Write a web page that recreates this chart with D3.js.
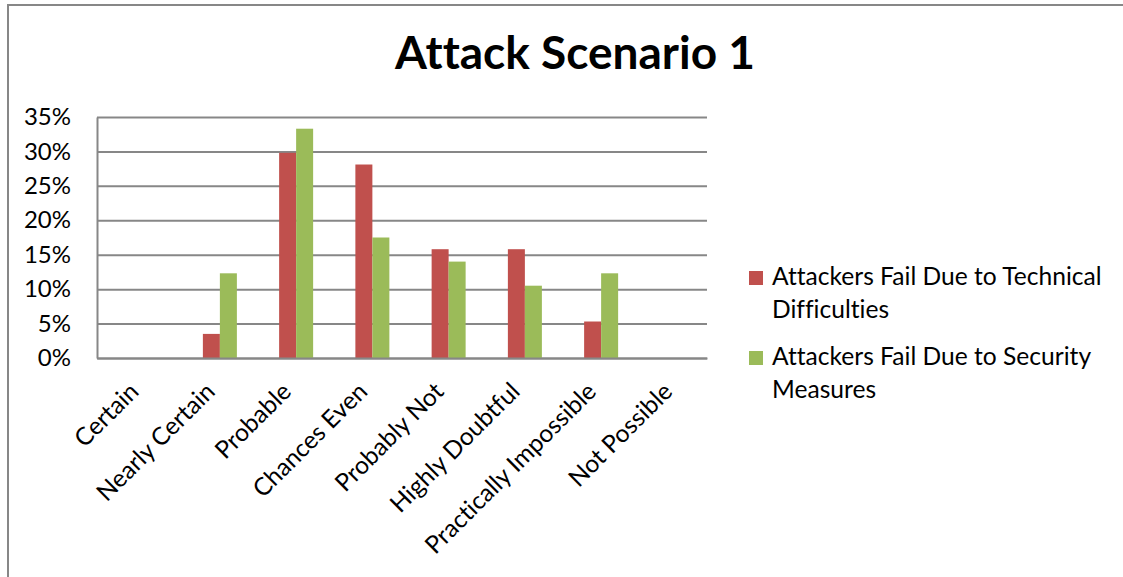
<!DOCTYPE html>
<html>
<head>
<meta charset="utf-8">
<script src="https://cdn.jsdelivr.net/npm/d3@7"></script>
<style>
  html, body { margin: 0; padding: 0; background: #fff; }
  svg { display: block; font-family: Lato, "Open Sans", sans-serif; font-variant-ligatures: none; }
</style>
</head>
<body>
<svg id="chart" width="1123" height="577"></svg>
<script>
const title = "Attack Scenario 1";
const categories = ["Certain", "Nearly Certain", "Probable", "Chances Even", "Probably Not", "Highly Doubtful", "Practically Impossible", "Not Possible"];
const technicalValues = [0, 0.035, 0.298, 0.281, 0.158, 0.158, 0.053, 0];
const securityValues = [0, 0.123, 0.333, 0.175, 0.140, 0.105, 0.123, 0];
const seriesKeys = ["technical", "security"];
const seriesLabels = [["Attackers Fail Due to Technical", "Difficulties"], ["Attackers Fail Due to Security", "Measures"]];
const seriesColors = ["#C0504D", "#9BBB59"];
const yTickValues = [0, 0.05, 0.10, 0.15, 0.20, 0.25, 0.30, 0.35];

const svg = d3.select("#chart");
const plot = { left: 97, right: 707, top: 117, bottom: 358 };
const gridColor = "#878787";

// outer chart border (extends beyond the visible area on right/bottom)
svg.append("rect")
  .attr("x", 8).attr("y", 5).attr("width", 1200).attr("height", 700)
  .attr("fill", "none").attr("stroke", gridColor).attr("stroke-width", 2);

// title
svg.append("text")
  .attr("x", 575).attr("y", 69)
  .attr("text-anchor", "middle")
  .attr("font-weight", "bold")
  .attr("font-size", 46)
  .attr("fill", "#000")
  .text(title);

const x = d3.scaleBand().domain(categories).range([plot.left, plot.right]);
const y = d3.scaleLinear().domain([0, 0.35]).range([plot.bottom, plot.top]);
const barW = x.bandwidth() * 0.223;
const xInner = d3.scaleBand().domain(seriesKeys).range([0, 2 * barW]);

// gridlines
svg.append("g")
  .attr("transform", `translate(${plot.left},0)`)
  .call(d3.axisLeft(y).tickValues(yTickValues).tickSize(-(plot.right - plot.left)).tickFormat(""))
  .call(g => g.select(".domain").remove())
  .call(g => g.selectAll("line").attr("stroke", gridColor).attr("stroke-width", 2));

// y axis labels + axis line
const yAxis = svg.append("g")
  .attr("transform", `translate(${plot.left},0)`)
  .call(d3.axisLeft(y).tickValues(yTickValues).tickSize(0).tickPadding(26).tickFormat(d3.format(".0%")));
yAxis.select(".domain").attr("stroke", gridColor).attr("stroke-width", 2);
yAxis.selectAll("text").attr("font-size", 24).attr("font-family", "Lato, sans-serif").attr("fill", "#000");

// bars
const rows = categories.map((c, i) => ({ category: c, technical: technicalValues[i], security: securityValues[i] }));
const groups = svg.append("g").selectAll("g")
  .data(rows).join("g")
  .attr("transform", d => `translate(${x(d.category) + x.bandwidth() / 2 - barW / 2},0)`);
groups.selectAll("rect")
  .data(d => seriesKeys.map((k, j) => ({ key: k, value: d[k], color: seriesColors[j] })))
  .join("rect")
  .attr("x", d => xInner(d.key))
  .attr("width", xInner.bandwidth())
  .attr("y", d => y(d.value))
  .attr("height", d => y(0) - y(d.value))
  .attr("fill", d => d.color);

// x axis
const xAxis = svg.append("g")
  .attr("transform", `translate(0,${plot.bottom})`)
  .call(d3.axisBottom(x).tickSize(0).tickFormat(d => d));
xAxis.select(".domain").attr("stroke", gridColor).attr("stroke-width", 2);
xAxis.selectAll(".tick text")
  .attr("font-size", 24.5).attr("font-family", "Lato, sans-serif").attr("fill", "#000")
  .attr("text-anchor", "end")
  .attr("dy", 0)
  .attr("y", 0)
  .attr("transform", "translate(5,35) rotate(-45)");

// legend
const legend = svg.append("g");
const legendTop = [285, 365];
seriesKeys.forEach((k, j) => {
  legend.append("rect")
    .attr("x", 749).attr("y", legendTop[j] - 14)
    .attr("width", 14).attr("height", 14)
    .attr("fill", seriesColors[j]);
  const t = legend.append("text")
    .attr("x", 772).attr("y", legendTop[j])
    .attr("font-size", 24.6).attr("fill", "#000");
  seriesLabels[j].forEach((line, li) => {
    t.append("tspan").attr("x", 772).attr("dy", li === 0 ? 0 : 32.7).text(line);
  });
});
</script>
</body>
</html>
